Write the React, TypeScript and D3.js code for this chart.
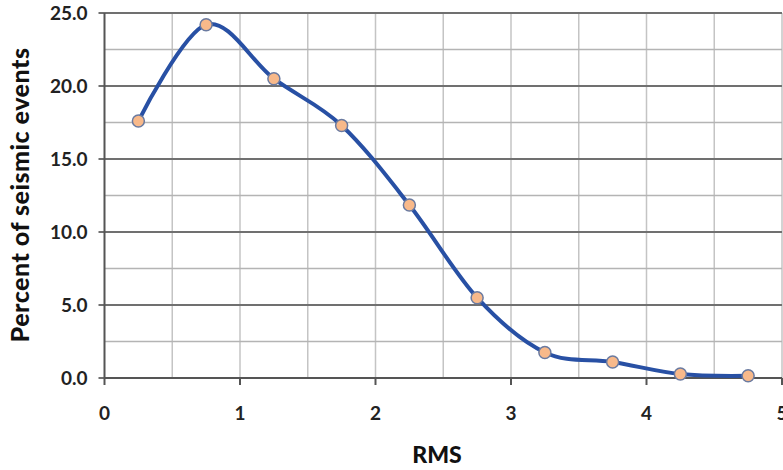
import React from "react";
import * as d3 from "d3";

// Share of seismic events per RMS bin (bin centres)
const rmsBins: number[] = [0.25, 0.75, 1.25, 1.75, 2.25, 2.75, 3.25, 3.75, 4.25, 4.75];
const percentEvents: number[] = [17.6, 24.2, 20.5, 17.3, 11.85, 5.5, 1.75, 1.1, 0.27, 0.15];

const xTickValues: number[] = [0, 1, 2, 3, 4, 5];
const yTickValues: number[] = [0, 5, 10, 15, 20, 25];
const xGridValues: number[] = [0.5, 1, 1.5, 2, 2.5, 3, 3.5, 4, 4.5, 5];
const yMinorGridValues: number[] = [2.5, 7.5, 12.5, 17.5, 22.5];

const W = 783;
const H = 470;
const FONT = "Lato, 'Open Sans', 'Liberation Sans', sans-serif";

export default function App() {
  const x = d3.scaleLinear().domain([0, 5]).range([104.5, 782]);
  const y = d3.scaleLinear().domain([0, 25]).range([378, 13]);

  const pts: [number, number][] = rmsBins.map((r, i) => [r, percentEvents[i]]);
  const line = d3
    .line<[number, number]>()
    .x((d) => x(d[0]))
    .y((d) => y(d[1]))
    .curve(d3.curveCardinal.tension(0));

  return (
    <svg
      width={W}
      height={H}
      style={{ position: "absolute", left: 0, top: 0, background: "#fff" }}
    >
      {/* vertical grid */}
      {xGridValues.map((v) => (
        <line key={"vx" + v} x1={x(v)} x2={x(v)} y1={y(25)} y2={y(0)} stroke="#c4c4c4" strokeWidth={1.5} />
      ))}
      {/* minor horizontal grid */}
      {yMinorGridValues.map((v) => (
        <line key={"hm" + v} x1={x(0)} x2={x(5)} y1={y(v)} y2={y(v)} stroke="#b4b4b4" strokeWidth={1.5} />
      ))}
      {/* major horizontal grid with left ticks */}
      {yTickValues.map((v) => (
        <line key={"hM" + v} x1={x(0) - 6} x2={x(5)} y1={y(v)} y2={y(v)} stroke="#707070" strokeWidth={2} />
      ))}
      {/* axes */}
      <line x1={x(0)} x2={x(0)} y1={y(25)} y2={y(0)} stroke="#555" strokeWidth={2} />
      <line x1={x(0)} x2={x(5)} y1={y(0)} y2={y(0)} stroke="#555" strokeWidth={2} />
      {xTickValues.map((v) => (
        <line key={"xt" + v} x1={x(v)} x2={x(v)} y1={y(0)} y2={y(0) + 7} stroke="#555" strokeWidth={2} />
      ))}

      {/* tick labels */}
      {yTickValues.map((v) => (
        <text
          key={"yl" + v}
          x={x(0) - 17}
          y={y(v)}
          dy="0.35em"
          textAnchor="end"
          fontFamily={FONT}
          fontWeight={700}
          fontSize={19}
          fill="#222"
        >
          {v.toFixed(1)}
        </text>
      ))}
      {xTickValues.map((v) => (
        <text
          key={"xl" + v}
          x={x(v)}
          y={413}
          dy="0.35em"
          textAnchor="middle"
          fontFamily={FONT}
          fontWeight={700}
          fontSize={19}
          fill="#222"
        >
          {v}
        </text>
      ))}

      {/* axis titles */}
      <text x={437} y={455} dy="0.35em" textAnchor="middle" fontFamily={FONT} fontWeight={900} fontSize={23} fill="#111">
        RMS
      </text>
      <text
        transform={`translate(20, 195) rotate(-90)`}
        dy="0.35em"
        textAnchor="middle"
        fontFamily={FONT}
        fontWeight={900}
        fontSize={25}
        letterSpacing={0.5}
        fill="#111"
      >
        Percent of seismic events
      </text>

      {/* series */}
      <path d={line(pts) ?? ""} fill="none" stroke="#2850a4" strokeWidth={4} strokeLinejoin="round" />
      {pts.map((d, i) => (
        <circle key={"p" + i} cx={x(d[0])} cy={y(d[1])} r={6} fill="#f8b98a" stroke="#6a7aa0" strokeWidth={1.5} />
      ))}
    </svg>
  );
}
